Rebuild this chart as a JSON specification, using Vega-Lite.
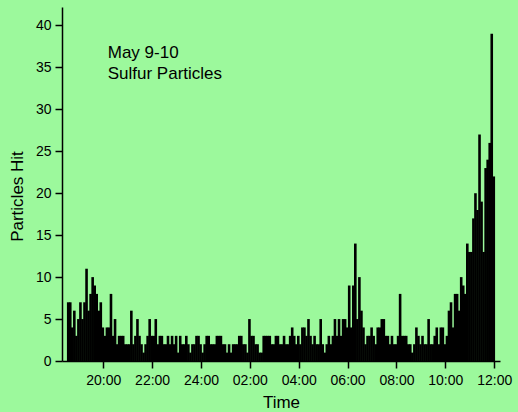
{
  "$schema": "https://vega.github.io/schema/vega-lite/v6.json",
  "width": 438,
  "height": 354,
  "autosize": {"type": "none"},
  "padding": {"left": 62, "top": 7, "right": 18, "bottom": 51},
  "background": "#9cf99c",
  "config": {
    "view": {"stroke": null},
    "font": "Liberation Sans",
    "axis": {
      "grid": false,
      "domainColor": "#000000",
      "domainWidth": 1.5,
      "tickColor": "#000000",
      "tickWidth": 1.5,
      "tickSize": 7,
      "labelColor": "#000000",
      "labelFontSize": 14,
      "titleColor": "#000000",
      "titleFontSize": 17,
      "titleFontWeight": "normal",
      "labelFont": "Liberation Sans",
      "titleFont": "Liberation Sans"
    }
  },
  "layer": [
    {
      "data": {
        "values": [
          {"t":1114,"n":7},{"t":1119,"n":7},{"t":1124,"n":4},{"t":1129,"n":6},{"t":1134,"n":3},{"t":1139,"n":5},{"t":1144,"n":7},{"t":1149,"n":5},{"t":1154,"n":7},{"t":1159,"n":11},
          {"t":1164,"n":6},{"t":1169,"n":8},{"t":1174,"n":10},{"t":1179,"n":9},{"t":1184,"n":8},{"t":1189,"n":6},{"t":1194,"n":7},{"t":1199,"n":4},{"t":1204,"n":3},{"t":1209,"n":4},
          {"t":1214,"n":4},{"t":1219,"n":8},{"t":1224,"n":3},{"t":1229,"n":5},{"t":1234,"n":2},{"t":1239,"n":3},{"t":1244,"n":3},{"t":1249,"n":3},{"t":1254,"n":2},{"t":1259,"n":2},
          {"t":1264,"n":2},{"t":1269,"n":6},{"t":1274,"n":2},{"t":1279,"n":3},{"t":1284,"n":5},{"t":1289,"n":3},{"t":1294,"n":2},{"t":1299,"n":1},{"t":1304,"n":2},{"t":1309,"n":3},
          {"t":1314,"n":5},{"t":1319,"n":3},{"t":1324,"n":3},{"t":1329,"n":5},{"t":1334,"n":2},{"t":1339,"n":3},{"t":1344,"n":3},{"t":1349,"n":2},{"t":1354,"n":2},{"t":1359,"n":3},
          {"t":1364,"n":2},{"t":1369,"n":3},{"t":1374,"n":2},{"t":1379,"n":3},{"t":1384,"n":1},{"t":1389,"n":3},{"t":1394,"n":2},{"t":1399,"n":2},{"t":1404,"n":3},{"t":1409,"n":2},
          {"t":1414,"n":1},{"t":1419,"n":2},{"t":1424,"n":2},{"t":1429,"n":3},{"t":1434,"n":3},{"t":1439,"n":2},{"t":1444,"n":1},{"t":1449,"n":2},{"t":1454,"n":3},{"t":1459,"n":3},
          {"t":1464,"n":2},{"t":1469,"n":2},{"t":1474,"n":2},{"t":1479,"n":3},{"t":1484,"n":3},{"t":1489,"n":3},{"t":1494,"n":2},{"t":1499,"n":2},{"t":1504,"n":1},{"t":1509,"n":2},
          {"t":1514,"n":1},{"t":1519,"n":2},{"t":1524,"n":2},{"t":1529,"n":2},{"t":1534,"n":3},{"t":1539,"n":3},{"t":1544,"n":2},{"t":1549,"n":2},{"t":1554,"n":1},{"t":1559,"n":5},
          {"t":1564,"n":3},{"t":1569,"n":3},{"t":1574,"n":2},{"t":1579,"n":2},{"t":1584,"n":1},{"t":1589,"n":1},{"t":1594,"n":3},{"t":1599,"n":3},{"t":1604,"n":3},{"t":1609,"n":3},
          {"t":1614,"n":2},{"t":1619,"n":2},{"t":1624,"n":3},{"t":1629,"n":3},{"t":1634,"n":2},{"t":1639,"n":2},{"t":1644,"n":3},{"t":1649,"n":2},{"t":1654,"n":2},{"t":1659,"n":3},
          {"t":1664,"n":4},{"t":1669,"n":3},{"t":1674,"n":2},{"t":1679,"n":3},{"t":1684,"n":2},{"t":1689,"n":4},{"t":1694,"n":4},{"t":1699,"n":3},{"t":1704,"n":5},{"t":1709,"n":3},
          {"t":1714,"n":2},{"t":1719,"n":3},{"t":1724,"n":2},{"t":1729,"n":2},{"t":1734,"n":5},{"t":1739,"n":2},{"t":1744,"n":1},{"t":1749,"n":2},{"t":1754,"n":3},{"t":1759,"n":2},
          {"t":1764,"n":3},{"t":1769,"n":5},{"t":1774,"n":3},{"t":1779,"n":5},{"t":1784,"n":3},{"t":1789,"n":5},{"t":1794,"n":5},{"t":1799,"n":4},{"t":1804,"n":9},{"t":1809,"n":4},
          {"t":1814,"n":9},{"t":1819,"n":14},{"t":1824,"n":5},{"t":1829,"n":10},{"t":1834,"n":6},{"t":1839,"n":4},{"t":1844,"n":2},{"t":1849,"n":3},{"t":1854,"n":3},{"t":1859,"n":4},
          {"t":1864,"n":3},{"t":1869,"n":2},{"t":1874,"n":4},{"t":1879,"n":4},{"t":1884,"n":5},{"t":1889,"n":5},{"t":1894,"n":3},{"t":1899,"n":3},{"t":1904,"n":2},{"t":1909,"n":3},
          {"t":1914,"n":2},{"t":1919,"n":2},{"t":1924,"n":3},{"t":1929,"n":8},{"t":1934,"n":3},{"t":1939,"n":3},{"t":1944,"n":3},{"t":1949,"n":2},{"t":1954,"n":2},{"t":1959,"n":1},
          {"t":1964,"n":2},{"t":1969,"n":4},{"t":1974,"n":3},{"t":1979,"n":2},{"t":1984,"n":3},{"t":1989,"n":2},{"t":1994,"n":2},{"t":1999,"n":5},{"t":2004,"n":2},{"t":2009,"n":2},
          {"t":2014,"n":3},{"t":2019,"n":4},{"t":2024,"n":2},{"t":2029,"n":4},{"t":2034,"n":4},{"t":2039,"n":2},{"t":2044,"n":3},{"t":2049,"n":6},{"t":2054,"n":7},{"t":2059,"n":4},
          {"t":2064,"n":8},{"t":2069,"n":8},{"t":2074,"n":6},{"t":2079,"n":10},{"t":2084,"n":9},{"t":2089,"n":8},{"t":2094,"n":14},{"t":2099,"n":13},{"t":2104,"n":13},{"t":2109,"n":17},
          {"t":2114,"n":20},{"t":2119,"n":18},{"t":2124,"n":27},{"t":2129,"n":19},{"t":2134,"n":13},{"t":2139,"n":23},{"t":2144,"n":24},{"t":2149,"n":26},{"t":2154,"n":39},{"t":2159,"n":22}
        ]
      },
      "mark": {"type": "bar", "width": 2.6, "color": "#000000"},
      "encoding": {
        "x": {
          "field": "t",
          "type": "quantitative",
          "scale": {"domain": [1111, 2162], "nice": false, "zero": false},
          "axis": {
            "title": "Time",
            "values": [1200, 1320, 1440, 1560, 1680, 1800, 1920, 2040, 2160],
            "labelExpr": "(datum.value == 1440 ? '24' : (floor(datum.value/60) % 24 < 10 ? '0' : '') + (floor(datum.value/60) % 24)) + ':00'",
            "labelPadding": 5,
            "titlePadding": 7,
            "labelFlush": false,
            "labelOverlap": false
          }
        },
        "y": {
          "field": "n",
          "type": "quantitative",
          "scale": {"domain": [0, 42.2], "nice": false},
          "axis": {
            "title": "Particles Hit",
            "values": [0, 5, 10, 15, 20, 25, 30, 35, 40],
            "labelPadding": 4,
            "titlePadding": 9,
            "titleY": 189
          }
        }
      }
    },
    {
      "data": {"values": [{}]},
      "mark": {
        "type": "text",
        "text": ["May 9-10", "Sulfur Particles"],
        "align": "left",
        "baseline": "alphabetic",
        "lineHeight": 20.5,
        "fontSize": 17,
        "font": "Liberation Sans",
        "color": "#000000"
      },
      "encoding": {
        "x": {"datum": 1211, "type": "quantitative"},
        "y": {"datum": 36.1, "type": "quantitative"}
      }
    }
  ]
}
